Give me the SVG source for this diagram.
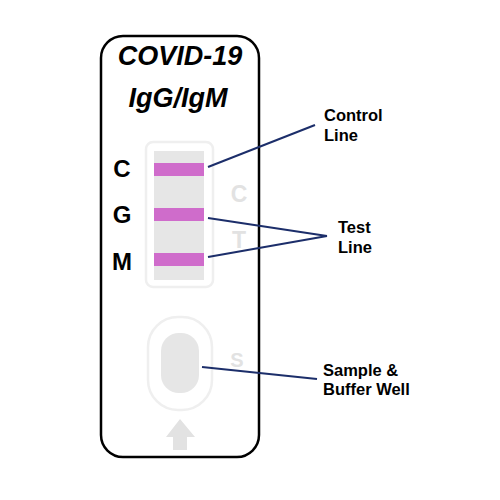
<svg xmlns="http://www.w3.org/2000/svg" width="500" height="500" viewBox="0 0 500 500">
<style>
.t{font-family:"Liberation Sans",Arial,sans-serif;font-weight:bold}
.title{font-size:27px;font-style:italic;text-anchor:middle;fill:#000}
.let{font-size:24px;text-anchor:middle;fill:#000}
.faint{font-size:23px;text-anchor:middle;fill:#e2e2e2}
.lab{font-size:16.5px;fill:#000}
.bar{fill:#cf6ccb}
.con{stroke:#1c2e6a;stroke-width:2;fill:none}
</style>
<rect width="500" height="500" fill="#fff"/>
<g id="card">
<rect x="101" y="36" width="158" height="421" rx="22" fill="#fff" stroke="#000" stroke-width="2.5"/>
<text class="t title" x="180" y="65">COVID-19</text>
<text class="t title" x="178" y="107">IgG/IgM</text>
</g>
<g id="strip">
<rect x="146" y="142" width="67" height="145" rx="7" fill="#fff" stroke="#efefef" stroke-width="2.5"/>
<rect x="154" y="151" width="50" height="129" fill="#e6e6e6"/>
<rect class="bar" x="154" y="163" width="50" height="13"/>
<rect class="bar" x="154" y="208" width="50" height="13"/>
<rect class="bar" x="154" y="253" width="50" height="13"/>
<text class="t let" x="122" y="177">C</text>
<text class="t let" x="122" y="223">G</text>
<text class="t let" x="122" y="270">M</text>
<text class="t faint" x="239" y="202">C</text>
<text class="t faint" x="239" y="248">T</text>
</g>
<g id="well">
<rect x="148" y="317" width="64" height="93" rx="30" fill="#fff" stroke="#efefef" stroke-width="2.5"/>
<rect x="161" y="333" width="38" height="60" rx="18" fill="#e6e6e6"/>
<text class="t faint" x="237" y="367" style="font-size:20px">S</text>
<polygon points="180,419 195,437 187,437 187,450 173,450 173,437 166,437" fill="#e2e2e2"/>
</g>
<g id="connectors">
<line class="con" x1="208" y1="167" x2="315" y2="125"/>
<line class="con" x1="208" y1="218" x2="327" y2="236"/>
<line class="con" x1="208" y1="257" x2="327" y2="236"/>
<line class="con" x1="202" y1="367" x2="317" y2="379"/>
</g>
<g id="labels">
<text class="t lab" x="324" y="121">Control</text>
<text class="t lab" x="324" y="141">Line</text>
<text class="t lab" x="338" y="233">Test</text>
<text class="t lab" x="338" y="253">Line</text>
<text class="t lab" x="323" y="376">Sample &amp;</text>
<text class="t lab" x="323" y="395">Buffer Well</text>
</g>
</svg>
